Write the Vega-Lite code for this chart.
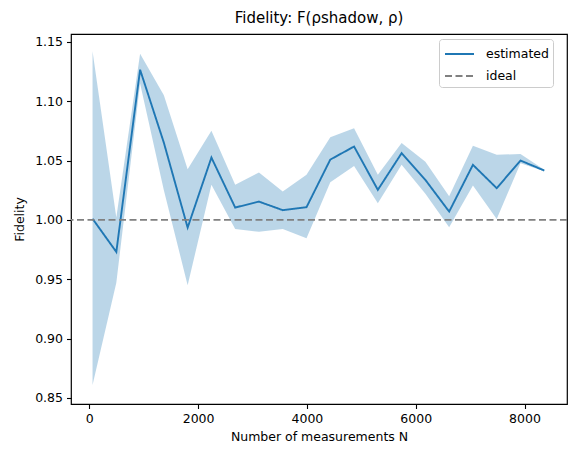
{
  "$schema": "https://vega.github.io/schema/vega-lite/v6.json",
  "autosize": {"type": "none"},
  "padding": {"left": 71, "top": 34, "right": 9, "bottom": 54},
  "width": 496,
  "height": 370,
  "background": "white",
  "title": {"text": "Fidelity: F(ρshadow, ρ)", "fontSize": 15, "fontWeight": "normal", "font": "DejaVu Sans", "color": "#000", "offset": 8},
  "datasets": {
    "est": [
      {"N": 60, "F": 1.001, "lo": 0.861, "hi": 1.142, "series": "estimated"},
      {"N": 497, "F": 0.973, "lo": 0.947, "hi": 1.002, "series": "estimated"},
      {"N": 934, "F": 1.1265, "lo": 1.115, "hi": 1.140, "series": "estimated"},
      {"N": 1371, "F": 1.065, "lo": 1.025, "hi": 1.105, "series": "estimated"},
      {"N": 1808, "F": 0.9935, "lo": 0.945, "hi": 1.0427, "series": "estimated"},
      {"N": 2245, "F": 1.0525, "lo": 1.0295, "hi": 1.075, "series": "estimated"},
      {"N": 2682, "F": 1.0104, "lo": 0.9924, "hi": 1.0295, "series": "estimated"},
      {"N": 3119, "F": 1.0154, "lo": 0.990, "hi": 1.040, "series": "estimated"},
      {"N": 3556, "F": 1.0082, "lo": 0.9924, "hi": 1.024, "series": "estimated"},
      {"N": 3993, "F": 1.0107, "lo": 0.9845, "hi": 1.038, "series": "estimated"},
      {"N": 4430, "F": 1.0508, "lo": 1.0318, "hi": 1.0697, "series": "estimated"},
      {"N": 4867, "F": 1.0618, "lo": 1.0455, "hi": 1.0773, "series": "estimated"},
      {"N": 5304, "F": 1.0253, "lo": 1.014, "hi": 1.038, "series": "estimated"},
      {"N": 5741, "F": 1.0562, "lo": 1.0464, "hi": 1.0647, "series": "estimated"},
      {"N": 6178, "F": 1.0337, "lo": 1.022, "hi": 1.049, "series": "estimated"},
      {"N": 6615, "F": 1.007, "lo": 0.9938, "hi": 1.020, "series": "estimated"},
      {"N": 7052, "F": 1.0464, "lo": 1.029, "hi": 1.0624, "series": "estimated"},
      {"N": 7489, "F": 1.0267, "lo": 1.0008, "hi": 1.0548, "series": "estimated"},
      {"N": 7926, "F": 1.050, "lo": 1.0478, "hi": 1.0556, "series": "estimated"},
      {"N": 8363, "F": 1.0416, "lo": 1.041, "hi": 1.0422, "series": "estimated"}
    ],
    "ideal": [{"F": 1.0, "series": "ideal"}]
  },
  "layer": [
    {
      "data": {"name": "est"},
      "mark": {"type": "area", "color": "#1f77b4", "opacity": 0.3},
      "encoding": {
        "x": {"field": "N", "type": "quantitative", "scale": {"domain": [-336, 8781], "nice": false, "zero": false},
              "axis": {"values": [0, 2000, 4000, 6000, 8000], "format": "d", "title": "Number of measurements N", "titlePadding": 5}},
        "y": {"field": "lo", "type": "quantitative", "scale": {"domain": [0.8449, 1.1566], "nice": false, "zero": false},
              "axis": {"values": [0.85, 0.9, 0.95, 1.0, 1.05, 1.1, 1.15], "format": ".2f", "title": "Fidelity", "titlePadding": 8}},
        "y2": {"field": "hi"}
      }
    },
    {
      "data": {"name": "est"},
      "mark": {"type": "line", "strokeWidth": 1.9},
      "encoding": {
        "x": {"field": "N", "type": "quantitative"},
        "y": {"field": "F", "type": "quantitative"},
        "color": {"field": "series", "type": "nominal", "scale": {"domain": ["estimated", "ideal"], "range": ["#1f77b4", "#808080"]}, "legend": {"title": null}},
        "strokeDash": {"field": "series", "type": "nominal", "scale": {"domain": ["estimated", "ideal"], "range": [[1, 0], [7, 3.5]]}, "legend": {"title": null}}
      }
    },
    {
      "data": {"name": "ideal"},
      "mark": {"type": "rule", "strokeWidth": 1.9},
      "encoding": {
        "y": {"field": "F", "type": "quantitative"},
        "color": {"field": "series", "type": "nominal"},
        "strokeDash": {"field": "series", "type": "nominal"}
      }
    }
  ],
  "config": {
    "font": "DejaVu Sans",
    "view": {"stroke": "#000", "strokeWidth": 1.2},
    "axis": {"grid": false, "domain": false, "tickColor": "#000", "tickSize": 4.5, "tickWidth": 1.1, "labelColor": "#000", "labelFontSize": 12.5, "labelPadding": 4, "titleColor": "#000", "titleFontSize": 12.5, "titleFontWeight": "normal", "labelFont": "DejaVu Sans", "titleFont": "DejaVu Sans"},
    "legend": {"orient": "none", "legendX": 368, "legendY": 5, "padding": 4, "rowPadding": 4, "strokeColor": "#cccccc", "fillColor": "rgba(255,255,255,0.8)", "cornerRadius": 3, "symbolType": "M-0.9,0H2.0", "symbolSize": 400, "symbolStrokeWidth": 1.9, "labelOffset": 21, "labelFontSize": 12.5, "labelColor": "#000", "labelFont": "DejaVu Sans"}
  }
}
